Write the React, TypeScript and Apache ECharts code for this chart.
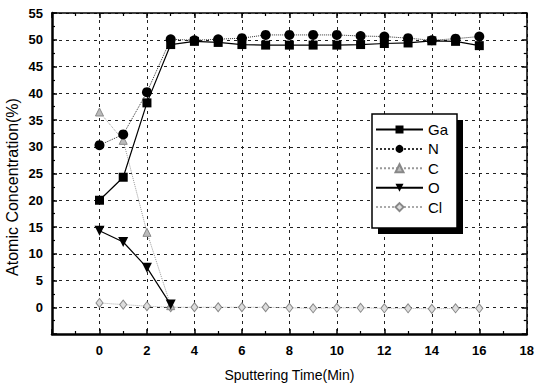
import React, { useEffect, useRef } from "react";
import * as echarts from "echarts";

const times = [0, 1, 2, 3, 4, 5, 6, 7, 8, 9, 10, 11, 12, 13, 14, 15, 16];
const gaValues = [20, 24.3, 38.2, 49.1, 49.7, 49.5, 49.1, 49.0, 49.0, 49.0, 49.0, 49.1, 49.3, 49.4, 49.8, 49.7, 48.9];
const nValues = [30.3, 32.3, 40.2, 50.1, 49.9, 50.1, 50.3, 50.9, 50.9, 50.9, 50.9, 50.7, 50.6, 50.3, 49.9, 50.2, 50.6];
const cTimes = [0, 1, 2, 3];
const cValues = [36.5, 31.2, 14.0, 0.3];
const oTimes = [0, 1, 2, 3];
const oValues = [14.3, 12.2, 7.4, 0.5];
const clValues = [0.8, 0.5, 0.2, 0, 0, 0, 0, 0, -0.1, -0.2, -0.1, -0.1, -0.2, -0.2, -0.3, -0.2, -0.2];

const xTicks = { min: -2, max: 18, interval: 2 };
const yTicks = { min: -5, max: 55, interval: 5 };

const pairs = (xs: number[], ys: number[]) => xs.map((x, i) => [x, ys[i]]);

const FONT = "'Liberation Sans', Arial, sans-serif";

export default function App() {
  const ref = useRef<HTMLDivElement>(null);
  useEffect(() => {
    const chart = echarts.init(ref.current!, null, { renderer: "svg" });
    const dashed = { show: true, lineStyle: { color: "#222", type: [3, 4] as any, width: 1 } };
    const baseX = {
      type: "value" as const,
      min: xTicks.min,
      max: xTicks.max,
      interval: xTicks.interval,
    };
    const baseY = {
      type: "value" as const,
      min: yTicks.min,
      max: yTicks.max,
      interval: yTicks.interval,
    };
    chart.setOption({
      animation: false,
      backgroundColor: "#fff",
      grid: { left: 52, top: 13, right: 6, bottom: 51, containLabel: false },
      xAxis: [
        {
          ...baseX,
          position: "bottom",
          name: "Sputtering Time(Min)",
          nameLocation: "middle",
          nameGap: 34,
          nameTextStyle: { fontFamily: FONT, fontSize: 14, color: "#000" },
          axisLine: { onZero: false, lineStyle: { color: "#000", width: 2.5 } },
          axisTick: { inside: true, length: 5, lineStyle: { color: "#000", width: 1.5 } },
          minorTick: { show: true, splitNumber: 2, length: 3, lineStyle: { color: "#000", width: 1.2 } },
          axisLabel: {
            margin: 10,
            fontFamily: FONT,
            fontWeight: "bold",
            fontSize: 13,
            color: "#000",
            formatter: (v: number) => (v < 0 ? "" : String(v)),
          },
          splitLine: dashed,
        },
        {
          ...baseX,
          position: "top",
          axisLine: { onZero: false, lineStyle: { color: "#000", width: 1.5 } },
          axisTick: { inside: true, length: 5, lineStyle: { color: "#000", width: 1.5 } },
          minorTick: { show: true, splitNumber: 2, length: 3, lineStyle: { color: "#000", width: 1.2 } },
          axisLabel: { show: false },
          splitLine: { show: false },
        },
      ],
      yAxis: [
        {
          ...baseY,
          position: "left",
          axisLine: { onZero: false, lineStyle: { color: "#000", width: 2.5 } },
          axisTick: { inside: true, length: 5, lineStyle: { color: "#000", width: 1.5 } },
          minorTick: { show: true, splitNumber: 2, length: 3, lineStyle: { color: "#000", width: 1.2 } },
          axisLabel: {
            margin: 9,
            fontFamily: FONT,
            fontWeight: "bold",
            fontSize: 13,
            color: "#000",
            formatter: (v: number) => (v < 0 ? "" : String(v)),
          },
          splitLine: dashed,
        },
        {
          ...baseY,
          position: "right",
          axisLine: { onZero: false, lineStyle: { color: "#000", width: 1.5 } },
          axisTick: { inside: true, length: 5, lineStyle: { color: "#000", width: 1.5 } },
          minorTick: { show: true, splitNumber: 2, length: 3, lineStyle: { color: "#000", width: 1.2 } },
          axisLabel: { show: false },
          splitLine: { show: false },
        },
      ],
      legend: {
        orient: "vertical",
        left: 372,
        top: 114,
        padding: [8, 8, 8, 3],
        itemWidth: 47,
        itemHeight: 10,
        itemGap: 4.4,
        z: 20,
        textStyle: { fontFamily: FONT, fontSize: 15, color: "#000" },
        data: ["Ga", "N", "C", "O", "Cl"],
      },
      graphic: [
        { type: "rect", z: 15, shape: { x: 378, y: 120, width: 85, height: 114 }, style: { fill: "#000" } },
        {
          type: "rect",
          z: 16,
          shape: { x: 372, y: 114, width: 85, height: 114 },
          style: { fill: "#fff", stroke: "#000", lineWidth: 1.5 },
        },
        {
          type: "text",
          x: 12,
          y: 187,
          rotation: Math.PI / 2,
          style: {
            text: "Atomic Concentration(%)",
            fontFamily: FONT,
            fontSize: 16,
            fill: "#000",
            align: "center",
            verticalAlign: "middle",
          },
        },
      ],
      series: [
        {
          name: "Ga",
          type: "line",
          data: pairs(times, gaValues),
          symbol: "rect",
          symbolSize: 9,
          itemStyle: { color: "#000" },
          lineStyle: { color: "#000", width: 1.2 },
          z: 5,
        },
        {
          name: "N",
          type: "line",
          data: pairs(times, nValues),
          symbol: "circle",
          symbolSize: 10,
          itemStyle: { color: "#000" },
          lineStyle: { color: "#333", width: 1, type: "dotted" },
          z: 4,
        },
        {
          name: "C",
          type: "line",
          data: pairs(cTimes, cValues),
          symbol: "triangle",
          symbolSize: 8,
          itemStyle: { color: "#bbb", borderColor: "#888", borderWidth: 1 },
          lineStyle: { color: "#999", width: 1, type: "dotted" },
          z: 3,
        },
        {
          name: "O",
          type: "line",
          data: pairs(oTimes, oValues),
          symbol: "triangle",
          symbolRotate: 180,
          symbolSize: 10,
          itemStyle: { color: "#000" },
          lineStyle: { color: "#000", width: 1.2 },
          z: 5,
        },
        {
          name: "Cl",
          type: "line",
          data: pairs(times, clValues),
          symbol: "diamond",
          symbolSize: [7, 9],
          itemStyle: { color: "#ddd", borderColor: "#888", borderWidth: 1 },
          lineStyle: { color: "#aaa", width: 1, type: "dotted" },
          z: 2,
        },
      ],
    });
    return () => chart.dispose();
  }, []);
  return (
    <div
      ref={ref}
      style={{ position: "fixed", left: 0, top: 0, width: 537, height: 387, background: "#fff" }}
    />
  );
}
